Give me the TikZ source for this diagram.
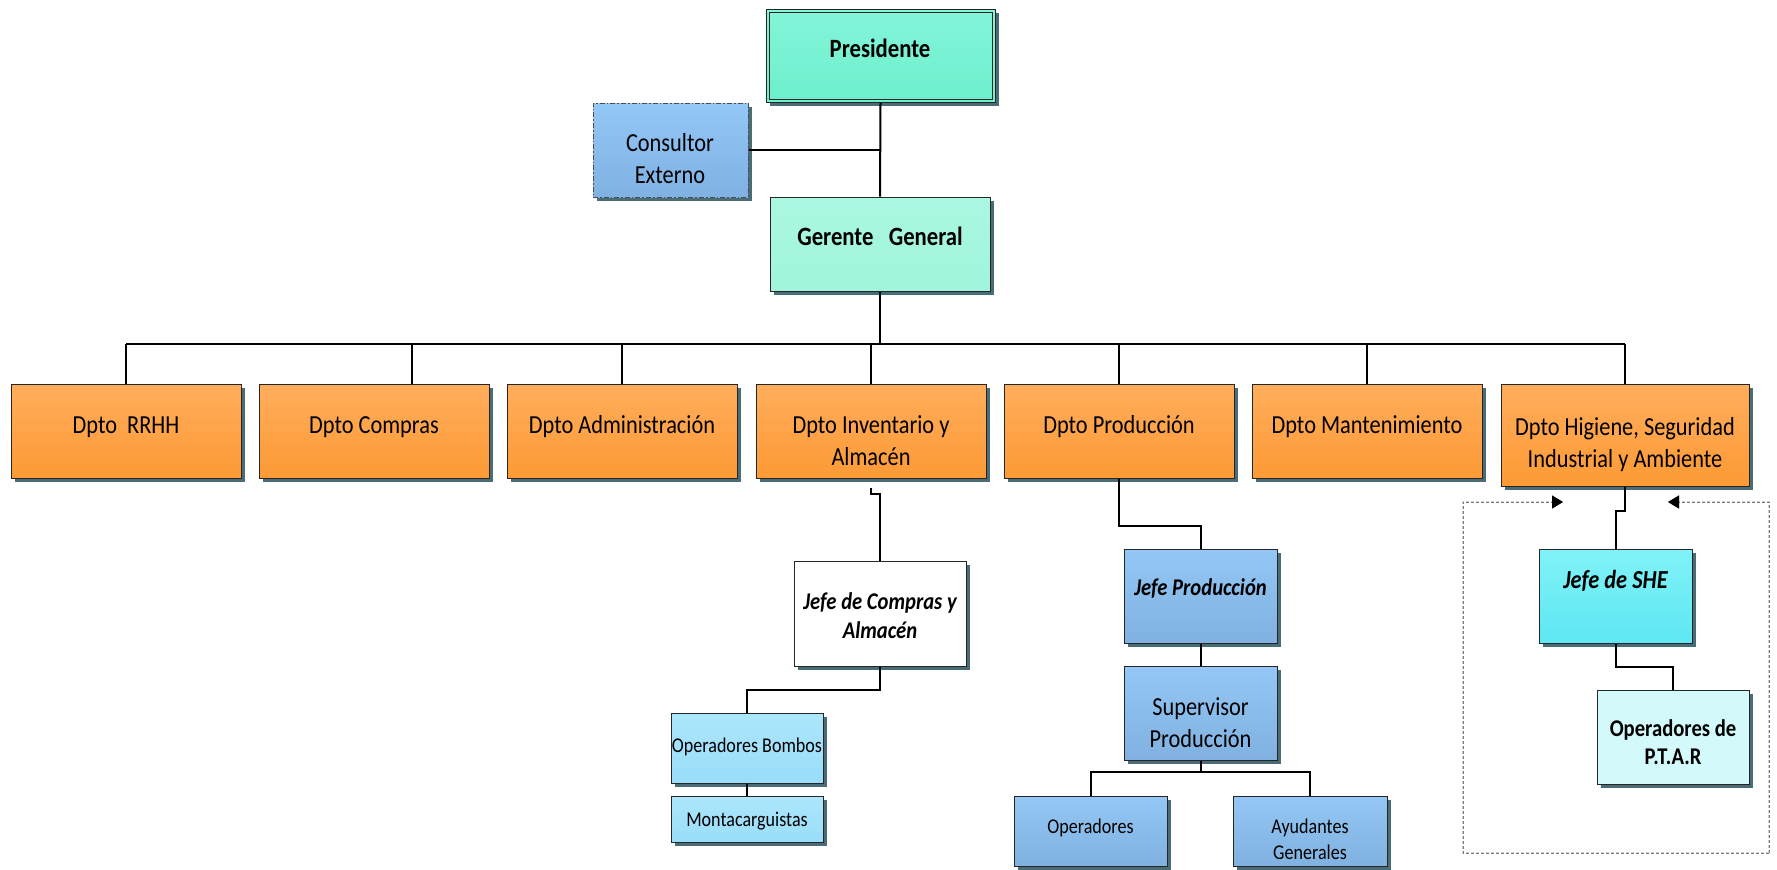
\documentclass[tikz,border=0pt]{standalone}
\usepackage{fontspec}
\setmainfont{Carlito}[FakeStretch=0.86]
\usetikzlibrary{arrows.meta,shadows,fit}

\definecolor{shadowc}{HTML}{3F6470}
\definecolor{presT}{HTML}{84F5D9}
\definecolor{presB}{HTML}{6CEFCC}
\definecolor{gerT}{HTML}{AAF7E2}
\definecolor{gerB}{HTML}{A0F5DC}
\definecolor{consT}{HTML}{93C7F6}
\definecolor{consB}{HTML}{7FB1E2}
\definecolor{orgT}{HTML}{FFAD5C}
\definecolor{orgB}{HTML}{FD9A35}
\definecolor{bluT}{HTML}{94C7F5}
\definecolor{bluB}{HTML}{80B1E0}
\definecolor{ltbT}{HTML}{ADE6FC}
\definecolor{ltbB}{HTML}{99DDF9}
\definecolor{cyaT}{HTML}{80F2F7}
\definecolor{cyaB}{HTML}{5EE7F2}
\definecolor{pale}{HTML}{D4F9FB}
\definecolor{frameC}{HTML}{7A7A7A}
\definecolor{frameS}{HTML}{C6D4DA}
\definecolor{tipS}{HTML}{8FA7B0}

\newcommand\twoline[2]{\begin{tabular}[t]{@{}c@{}}#1\\#2\end{tabular}}

\tikzset{
  box/.style={draw=black!85, line width=0.5pt, inner sep=0pt,
    drop shadow={shadow xshift=2pt, shadow yshift=-2pt, fill=shadowc, opacity=0.95}},
  presbox/.style={box, top color=presT, bottom color=presB},
  gerbox/.style={box, top color=gerT, bottom color=gerB},
  consbox/.style={box, top color=consT, bottom color=consB, draw=black!70,
    dash pattern=on 2.5pt off 1pt on 0.8pt off 1pt},
  deptbox/.style={box, top color=orgT, bottom color=orgB},
  bluebox/.style={box, top color=bluT, bottom color=bluB},
  lightbox/.style={box, top color=ltbT, bottom color=ltbB},
  cyanbox/.style={box, top color=cyaT, bottom color=cyaB},
  palebox/.style={box, fill=pale},
  whitebox/.style={box, fill=white},
  conn/.style={line width=1pt, black},
  lbl/.style={inner sep=0pt, anchor=base, text=black},
  big/.style={lbl, font=\fontsize{13}{16}\selectfont},
  bigb/.style={lbl, font=\fontsize{13.2}{16}\selectfont\bfseries},
  bigbi/.style={lbl, font=\fontsize{13}{16}\selectfont\bfseries\itshape},
  midbi/.style={lbl, font=\fontsize{12}{14.5}\selectfont\bfseries\itshape},
  midb/.style={lbl, font=\fontsize{12}{14.2}\selectfont\bfseries},
  small/.style={lbl, font=\fontsize{10.5}{13.3}\selectfont},
  frame/.style={draw=frameC, line width=0.5pt, dash pattern=on 1.5pt off 1pt},
  frameshadow/.style={draw=frameS, line width=0.6pt, dash pattern=on 1.5pt off 1pt},
}

\begin{document}
\begin{tikzpicture}[x=0.5pt,y=-0.5pt]
\useasboundingbox (0,0) rectangle (1777,869);

% ---- top of the hierarchy
\node[presbox, fit={(766,9)(995,102)}] (pres) {};
\draw[line width=0.5pt, black!85] ([shift={(3.5,3.5)}]pres.north west) rectangle ([shift={(-3.5,-3.5)}]pres.south east);
\node[bigb] (presL) at (880,57) {Presidente};

\node[consbox, fit={(593,103)(748,197)}] (cons) {};
\node[big] (consL) at (670,151.5) {\twoline{Consultor}{Externo}};

\node[gerbox, fit={(770,197)(990,291)}] (ger) {};
\node[bigb] (gerL) at (880,245) {Gerente\ \ \ General};

% ---- departments
\node[deptbox, fit={(11,384)(241,478)}] (rrhh) {};
\node[deptbox, fit={(259,384)(489,478)}] (compras) {};
\node[deptbox, fit={(507,384)(737,478)}] (admin) {};
\node[deptbox, fit={(756,384)(986,478)}] (inv) {};
\node[deptbox, fit={(1004,384)(1234,478)}] (prod) {};
\node[deptbox, fit={(1252,384)(1482,478)}] (mant) {};
\node[deptbox, fit={(1501,384)(1749,486)}] (hig) {};

\node[big] (rrhhL) at (126,433) {Dpto\ \ RRHH};
\node[big] (comprasL) at (374,433) {Dpto Compras};
\node[big] (adminL) at (622,433) {Dpto Administración};
\node[big] (invL) at (871,433) {\twoline{Dpto Inventario y}{Almacén}};
\node[big] (prodL) at (1119,433) {Dpto Producción};
\node[big] (mantL) at (1367,433) {Dpto Mantenimiento};
\node[big] (higL) at (1625,435) {\twoline{Dpto Higiene, Seguridad}{Industrial y Ambiente}};

% ---- inventory branch
\node[whitebox, fit={(794,561)(966,666)}] (jc) {};
\node[midbi] (jcL) at (880,609) {\twoline{Jefe de Compras y}{Almacén}};
\node[lightbox, fit={(671,713)(823,783)}] (bomb) {};
\node[small] (bombL) at (747,752.5) {Operadores Bombos};
\node[lightbox, fit={(671,796)(823,842)}] (mont) {};
\node[small] (montL) at (747,826.5) {Montacarguistas};

% ---- production branch
\node[bluebox, fit={(1124,549)(1277,643)}] (jp) {};
\node[midbi] (jpL) at (1200.5,595) {Jefe Producción};
\node[bluebox, fit={(1124,666)(1277,760)}] (sup) {};
\node[big] (supL) at (1200.5,715) {\twoline{Supervisor}{Producción}};
\node[bluebox, fit={(1014,796)(1167,866)}] (ops) {};
\node[small] (opsL) at (1090.5,833) {Operadores};
\node[bluebox, fit={(1233,796)(1387,866)}] (ayu) {};
\node[small] (ayuL) at (1310,833) {\twoline{Ayudantes}{Generales}};

% ---- safety branch
\node[cyanbox, fit={(1539,549)(1692,643)}] (she) {};
\node[bigbi] (sheL) at (1615.5,588.5) {Jefe de SHE};
\node[palebox, fit={(1597,690)(1749,784)}] (ptar) {};
\node[midb] (ptarL) at (1673,736.5) {\twoline{Operadores de}{P.T.A.R}};

% ---- connectors
\coordinate (bus) at (880,344);
\coordinate (comprasIn) at (412,384);
\draw[conn] (pres.south) -- (ger.north);
\draw[conn] (cons.east) -- (cons.east -| pres.south);
\draw[conn] (ger.south) -- (bus);
\draw[conn] (rrhh.north |- bus) -- (hig.north |- bus);
\draw[conn] (rrhh.north |- bus) -- (rrhh.north);
\draw[conn] (comprasIn |- bus) -- (comprasIn);
\draw[conn] (admin.north |- bus) -- (admin.north);
\draw[conn] (inv.north |- bus) -- (inv.north);
\draw[conn] (prod.north |- bus) -- (prod.north);
\draw[conn] (mant.north |- bus) -- (mant.north);
\draw[conn] (hig.north |- bus) -- (hig.north);

\draw[conn] (inv.south) ++(0,9) -- ++(0,6) -| (jc.north);
\draw[conn] (jc.south) -- ++(0,23) -| (bomb.north);
\draw[conn] (bomb.south) -- (mont.north);

\draw[conn] (prod.south) -- ++(0,47) -| (jp.north);
\draw[conn] (jp.south) -- (sup.north);
\draw[conn] (sup.south) -- ++(0,11) -| (ops.north);
\draw[conn] (sup.south) -- ++(0,11) -| (ayu.north);

\draw[conn] (hig.south) -- ++(0,24) -| (she.north);
\draw[conn] (she.south) -- ++(0,23) -| (ptar.north);

% ---- dashed frame around the safety team
\coordinate (frNW) at (1463,502);
\coordinate (frSE) at (1769,853);
\coordinate (tipL) at (1563,502);
\coordinate (tipR) at (1668,502);
\begin{scope}[shift={(3,5)}]
  \draw[frameshadow, -{Triangle[length=5.5pt,width=6.5pt,color=tipS,fill=tipS]}] (frSE) -| (frNW) -- (tipL);
  \draw[frameshadow, -{Triangle[length=5.5pt,width=6.5pt,color=tipS,fill=tipS]}] (frSE) |- (tipR);
\end{scope}
\draw[frame, -{Triangle[length=5.5pt,width=6.5pt,color=black,fill=black]}] (frSE) -| (frNW) -- (tipL);
\draw[frame, -{Triangle[length=5.5pt,width=6.5pt,color=black,fill=black]}] (frSE) |- (tipR);
\end{tikzpicture}
\end{document}
